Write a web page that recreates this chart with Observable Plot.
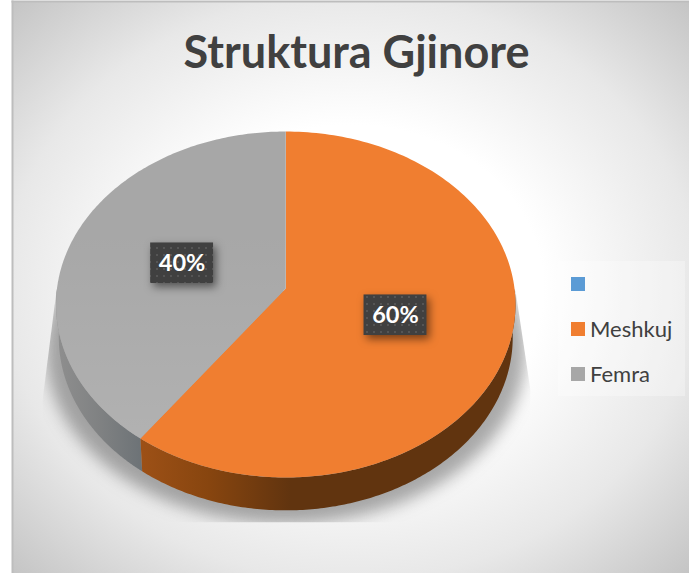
<!DOCTYPE html>
<html>
<head>
<meta charset="utf-8">
<script src="https://cdn.jsdelivr.net/npm/d3@7"></script>
<script src="https://cdn.jsdelivr.net/npm/@observablehq/plot@0.6"></script>
<style>
  html, body { margin: 0; padding: 0; background: #fff; }
  #wrap { position: relative; width: 689px; height: 573px; overflow: hidden; }
  #wrap svg { display: block; }
  #legend { position: absolute; left: 558px; top: 261px; width: 127px; height: 135px; background: rgba(255,255,255,.3);
            font: 400 22px Lato, sans-serif; color: #404040; }
  #legend div { position: absolute; left: 13px; height: 14px; }
  #legend i { position: absolute; left: 0; top: 0; width: 14px; height: 14px; }
  #legend span { position: absolute; left: 19px; top: -7px; line-height: 28px; white-space: nowrap; }
</style>
</head>
<body>
<div id="wrap"></div>
<script>
const title = "Struktura Gjinore";
const categories = ["", "Meshkuj", "Femra"];
const values = [0, 60, 40];
const labels = ["", "60%", "40%"];
const colors = ["#5B9BD5", "#F07E30", "#A7A7A7"];

// Tilted-disc model of the 3-D pie
const tilt = 0.0925;      // apex sits above the centre of the ellipse
const depth = 0.19;       // wall height, in y-scale units
const taper = 0.988;      // lower rim is slightly narrower
const rimX = a => Math.sin(a) / (1 + tilt * Math.cos(a));
const rimY = a => (Math.cos(a) + tilt) / (1 + tilt * Math.cos(a));

const arcs = d3.pie().sort(null).value(d => d)(values)
  .map((s, i) => ({...s, category: categories[i], label: labels[i]}))
  .filter(s => s.value > 0);

const arcPoints = (a0, a1) => d3.range(0, 181).map(k => a0 + (a1 - a0) * k / 180);

const topFace = arcs.flatMap(s => [
  {category: s.category, x: 0, y: tilt},
  ...arcPoints(s.startAngle, s.endAngle).map(a => ({category: s.category, x: rimX(a), y: rimY(a)}))
]);

const wall = arcs.flatMap(s => {
  const a0 = Math.max(s.startAngle, Math.PI / 2), a1 = Math.min(s.endAngle, 3 * Math.PI / 2);
  const pts = arcPoints(a0, a1);
  return [
    ...pts.map(a => ({category: s.category, x: rimX(a), y: rimY(a)})),
    ...pts.slice().reverse().map(a => ({category: s.category, x: rimX(a) * taper, y: rimY(a) - depth}))
  ];
});
const wallOf = c => wall.filter(d => d.category === c);

const outline = arcPoints(0, 2 * Math.PI).map(a => ({x: rimX(a) * 1.045, y: rimY(a) - depth * 1.4}));

const r = 0.49, boxW = 0.275, boxH = 0.2345;
const boxes = arcs.map(s => {
  const a = (s.startAngle + s.endAngle) / 2;
  const cx = rimX(a) * r, cy = rimY(a) * r + (1 - r) * tilt;
  return {label: s.label, cx, cy, x1: cx - boxW / 2, x2: cx + boxW / 2, y1: cy - boxH / 2, y2: cy + boxH / 2};
});

const defs = () => {
  const ns = "http://www.w3.org/2000/svg";
  const d = document.createElementNS(ns, "defs");
  d.innerHTML = `
    <radialGradient id="bg" cx="0.5" cy="0.5" r="0.71">
      <stop offset="0" stop-color="#ffffff"/>
      <stop offset="0.4" stop-color="#ffffff"/>
      <stop offset="0.72" stop-color="#e8e8e8"/>
      <stop offset="1" stop-color="#c4c4c4"/>
    </radialGradient>
    <linearGradient id="wallO" gradientUnits="userSpaceOnUse" x1="143" x2="290" y1="0" y2="0">
      <stop offset="0" stop-color="#9c5016"/>
      <stop offset="0.45" stop-color="#87450f"/>
      <stop offset="1" stop-color="#61340f"/>
    </linearGradient>
    <linearGradient id="wallG" gradientUnits="userSpaceOnUse" x1="58" x2="143" y1="0" y2="0">
      <stop offset="0" stop-color="#8e8e8e"/>
      <stop offset="0.5" stop-color="#7f8182"/>
      <stop offset="1" stop-color="#6c7276"/>
    </linearGradient>
    <linearGradient id="sheen" gradientUnits="userSpaceOnUse" x1="0" x2="0" y1="230" y2="440">
      <stop offset="0" stop-color="#fff" stop-opacity="0"/>
      <stop offset="1" stop-color="#fff" stop-opacity="0.12"/>
    </linearGradient>
    <pattern id="dots" patternUnits="userSpaceOnUse" width="7" height="7">
      <rect width="7" height="7" fill="#404040"/>
      <rect x="2" y="2" width="2" height="2" fill="#555555"/>
    </pattern>
    <clipPath id="shadowClip">
      <polygon points="56,290 515,290 530,390 530,522 42,522 42,400"/>
    </clipPath>`;
  return d;
};

const clipTo = id => (index, scales, values, dims, ctx, next) => {
  const g = next(index, scales, values, dims, ctx);
  g.setAttribute("clip-path", `url(#${id})`);
  return g;
};

const chart = Plot.plot({
  width: 689,
  height: 573,
  marginLeft: 12,
  marginTop: 1,
  marginRight: 0,
  marginBottom: 0,
  x: {domain: [-1, 1], range: [56.5, 514], axis: null},
  y: {domain: [-1, 1], range: [477, 131], axis: null},
  color: {domain: categories, range: colors},
  marks: [
    defs,
    Plot.frame({fill: "url(#bg)", stroke: "none"}),
    Plot.frame({anchor: "left", stroke: "#bdbdbd", strokeWidth: 2}),
    Plot.frame({anchor: "top", stroke: "#bdbdbd", strokeWidth: 2}),
    Plot.line(outline, {x: "x", y: "y", fill: "#555", fillOpacity: 0.5, stroke: "none",
                        imageFilter: "blur(8px)", render: clipTo("shadowClip")}),
    Plot.line(wallOf("Femra"), {x: "x", y: "y", fill: "url(#wallG)", stroke: "none"}),
    Plot.line(wallOf("Meshkuj"), {x: "x", y: "y", fill: "url(#wallO)", stroke: "none"}),
    Plot.line(topFace, {x: "x", y: "y", fill: "category", stroke: "none"}),
    Plot.line(topFace.filter(d => d.category === "Femra"), {x: "x", y: "y", fill: "url(#sheen)", stroke: "none"}),
    Plot.rect(boxes, {x1: "x1", x2: "x2", y1: "y1", y2: "y2", fill: "url(#dots)",
                      imageFilter: "drop-shadow(3px 4px 4px rgba(0,0,0,.5))"}),
    Plot.text(boxes, {x: "cx", y: "cy", text: "label", fill: "#fff", fontSize: 23.5, fontWeight: 700,
                      fontFamily: "Lato, sans-serif"}),
    Plot.text([title], {frameAnchor: "top-left", dx: 344, dy: 52, textAnchor: "middle", lineAnchor: "middle",
                        fill: "#404040", fontSize: 45, fontWeight: 700, fontFamily: "Lato, sans-serif"})
  ]
});

document.getElementById("wrap").appendChild(chart);

const legend = document.createElement("div");
legend.id = "legend";
categories.forEach((c, i) => {
  const row = document.createElement("div");
  row.style.top = (16 + i * 45) + "px";
  row.innerHTML = `<i style="background:${colors[i]}"></i><span>${c}</span>`;
  legend.appendChild(row);
});
document.getElementById("wrap").appendChild(legend);
</script>
</body>
</html>
